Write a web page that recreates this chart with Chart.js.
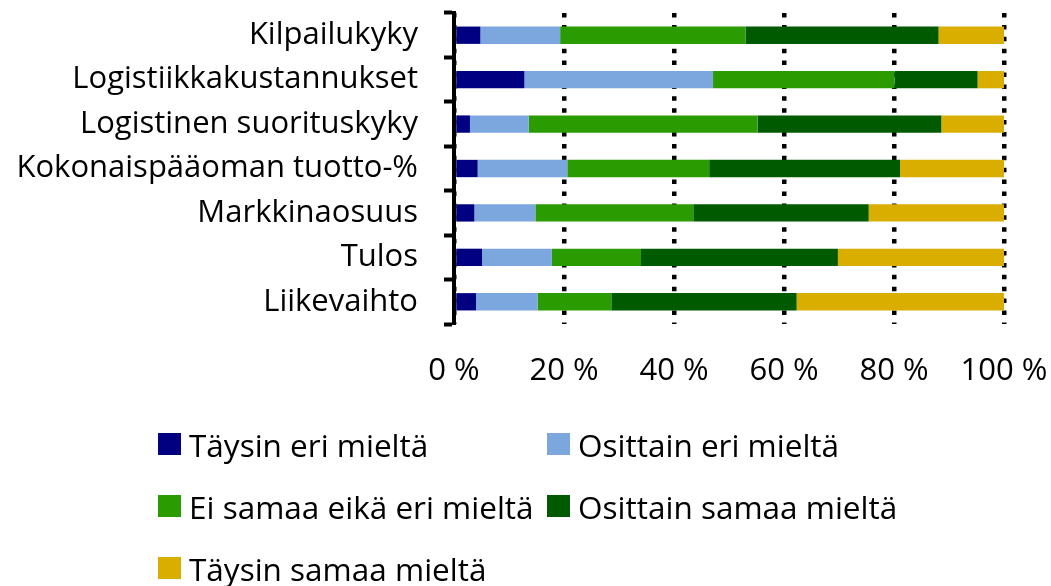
<!DOCTYPE html>
<html>
<head>
<meta charset="utf-8">
<script src="https://cdn.jsdelivr.net/npm/chart.js@4.4.1/dist/chart.umd.min.js"></script>
<style>
  html, body { margin: 0; padding: 0; background: #fff; }
  #wrap { position: relative; width: 1051px; height: 586px; }
  #chart { position: absolute; left: 0; top: 0; }
  .legend-item { position: absolute; display: flex; align-items: center; height: 40px;
                 font-family: "Open Sans", sans-serif; font-size: 31.5px; color: #000;
                 white-space: nowrap; font-variant-ligatures: none; }
  .legend-box { width: 23px; height: 22px; margin-right: 8px; flex: none; }
</style>
</head>
<body>
<div id="wrap">
  <canvas id="chart" width="1051" height="586"></canvas>
</div>
<script>
// Survey answers per business metric, shares in percent
const categories = [
  'Kilpailukyky',
  'Logistiikkakustannukset',
  'Logistinen suorituskyky',
  'Kokonaispääoman tuotto-%',
  'Markkinaosuus',
  'Tulos',
  'Liikevaihto'
];
const seriesNames = [
  'Täysin eri mieltä',
  'Osittain eri mieltä',
  'Ei samaa eikä eri mieltä',
  'Osittain samaa mieltä',
  'Täysin samaa mieltä'
];
const taysinEri      = [4.8, 12.8, 2.9, 4.3, 3.7, 5.1, 4.0];
const osittainEri    = [14.5, 34.3, 10.7, 16.3, 11.1, 12.7, 11.2];
const eiSamaaEikaEri = [33.7, 33.0, 41.6, 25.8, 28.7, 16.2, 13.4];
const osittainSamaa  = [35.1, 15.1, 33.4, 34.7, 31.9, 35.8, 33.7];
const taysinSamaa    = [11.9, 4.8, 11.4, 18.9, 24.6, 30.2, 37.7];
const xTickValues = [0, 20, 40, 60, 80, 100];

const seriesColors = ['#000080', '#7BA6DE', '#2A9B00', '#005B00', '#D9AE00'];
const seriesValues = [taysinEri, osittainEri, eiSamaaEikaEri, osittainSamaa, taysinSamaa];

const FONT = 'Open Sans';
const FONT_SIZE = 31;

const datasets = seriesNames.map((name, i) => ({
  label: name,
  data: seriesValues[i],
  backgroundColor: seriesColors[i],
  borderWidth: 0,
  categoryPercentage: 1.0,
  barPercentage: 0.39
}));

const chart = new Chart(document.getElementById('chart'), {
  type: 'bar',
  data: { labels: categories, datasets },
  options: {
    indexAxis: 'y',
    responsive: false,
    animation: false,
    layout: { padding: { top: 13, right: 47, bottom: 0, left: 0 } },
    plugins: { legend: { display: false }, tooltip: { enabled: false } },
    scales: {
      x: {
        stacked: true,
        min: 0,
        max: 100,
        afterBuildTicks: (scale) => { scale.ticks = xTickValues.map(v => ({ value: v })); },
        afterFit: (scale) => {
          scale.height = 586 - 324;
          scale.paddingLeft = 0;
          scale.paddingRight = 0;
        },
        ticks: {
          color: '#000',
          padding: 29,
          font: { family: FONT, size: FONT_SIZE },
          callback: (v) => v + ' %'
        },
        grid: { color: '#000', lineWidth: 4.5, drawTicks: false },
        border: { display: false, dash: [4.5, 7.4] }
      },
      y: {
        stacked: true,
        afterFit: (scale) => {
          scale.width = 454;
          scale.paddingTop = 0;
          scale.paddingBottom = 0;
        },
        ticks: {
          color: '#000',
          padding: 26,
          font: { family: FONT, size: FONT_SIZE }
        },
        grid: {
          drawOnChartArea: false,
          drawTicks: true,
          tickLength: 10,
          tickWidth: 4,
          tickColor: '#000'
        },
        border: { display: true, color: '#000', width: 4 }
      }
    }
  }
});

// Two-column legend below the plot
const wrap = document.getElementById('wrap');
const colX = [158, 547];
const rowY = [444, 506, 568];
chart.data.datasets.forEach((ds, i) => {
  const item = document.createElement('div');
  item.className = 'legend-item';
  item.style.left = colX[i % 2] + 'px';
  item.style.top = (rowY[Math.floor(i / 2)] - 20) + 'px';
  const box = document.createElement('span');
  box.className = 'legend-box';
  box.style.background = ds.backgroundColor;
  const txt = document.createElement('span');
  txt.textContent = ds.label;
  item.appendChild(box);
  item.appendChild(txt);
  wrap.appendChild(item);
});
</script>
</body>
</html>
